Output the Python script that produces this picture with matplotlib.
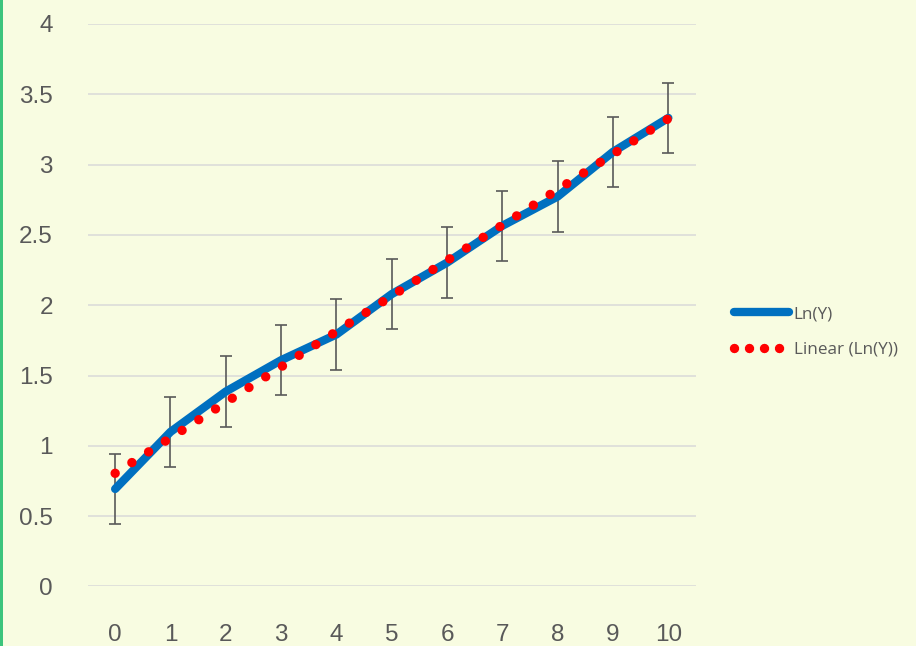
import numpy as np
import matplotlib
matplotlib.use("Agg")
import matplotlib.pyplot as plt
from matplotlib.patches import Rectangle
from matplotlib.lines import Line2D

x_vals = [0, 1, 2, 3, 4, 5, 6, 7, 8, 9, 10]
ln_y = [0.693, 1.099, 1.386, 1.609, 1.792, 2.079, 2.303, 2.565, 2.773, 3.091, 3.332]
err = [0.25] * 11
y_ticks = [0, 0.5, 1, 1.5, 2, 2.5, 3, 3.5, 4]
y_tick_labels = ["0", "0.5", "1", "1.5", "2", "2.5", "3", "3.5", "4"]
series_label = "Ln(Y)"
trend_label = "Linear (Ln(Y))"

bg = "#F8FCE1"
fig = plt.figure(figsize=(9.16, 6.46), dpi=100, facecolor=bg)
ax = fig.add_axes([87.5 / 916, (646 - 586.4) / 646, (696 - 87.5) / 916, (586.4 - 24) / 646])
ax.set_facecolor(bg)

# green left border
fig.patches.append(Rectangle((0, 0), 3 / 916, 1, transform=fig.transFigure,
                             facecolor="#3CC47C", edgecolor="none", zorder=10))

ax.set_xlim(-0.5, 10.5)
ax.set_ylim(0, 4)
ax.set_yticks(y_ticks)
ax.set_yticklabels(y_tick_labels)
ax.set_xticks(x_vals)
ax.grid(axis="y", color="#D9D9D9", linewidth=1.1)
ax.set_axisbelow(True)
for s in ax.spines.values():
    s.set_visible(False)
ax.tick_params(axis="both", length=0, labelsize=17.5, labelcolor="#595959")
ax.tick_params(axis="y", pad=25)
ax.tick_params(axis="x", pad=27)
for lab in ax.get_xticklabels() + ax.get_yticklabels():
    lab.set_fontfamily("Liberation Sans")

ax.errorbar(x_vals, ln_y, yerr=err, fmt="none", ecolor="#595959",
            elinewidth=1.2, capsize=4, capthick=1.2, zorder=2)
line, = ax.plot(x_vals, ln_y, color="#0070C0", linewidth=6.0,
                solid_capstyle="round", solid_joinstyle="round", zorder=3, label=series_label)

coef = np.polyfit(x_vals, ln_y, 1)
xt = np.array([x_vals[0], x_vals[-1]])
trend, = ax.plot(xt, np.polyval(coef, xt), color="#FF0000", linewidth=6.8,
                 linestyle=(0, (0.001, 14.3 / 6.8)), dash_capstyle="round",
                 zorder=4, label=trend_label)

# legend proxy with slightly tighter dot spacing (as in the reference legend)
trend_proxy = Line2D([], [], color="#FF0000", linewidth=6.8,
                     linestyle=(0, (0.001, 10.8 / 6.8)), dash_capstyle="round")

leg = fig.legend(handles=[line, trend_proxy], labels=[series_label, trend_label],
                 loc="center left",
                 bbox_to_anchor=(719 / 916, 1 - 332 / 646),
                 frameon=False, prop={"family": "Open Sans", "size": 12.3},
                 handlelength=3.2, handletextpad=0.27, labelspacing=1.15)
for t in leg.get_texts():
    t.set_color("#595959")

fig.savefig("out.png", dpi=100, facecolor=bg)
